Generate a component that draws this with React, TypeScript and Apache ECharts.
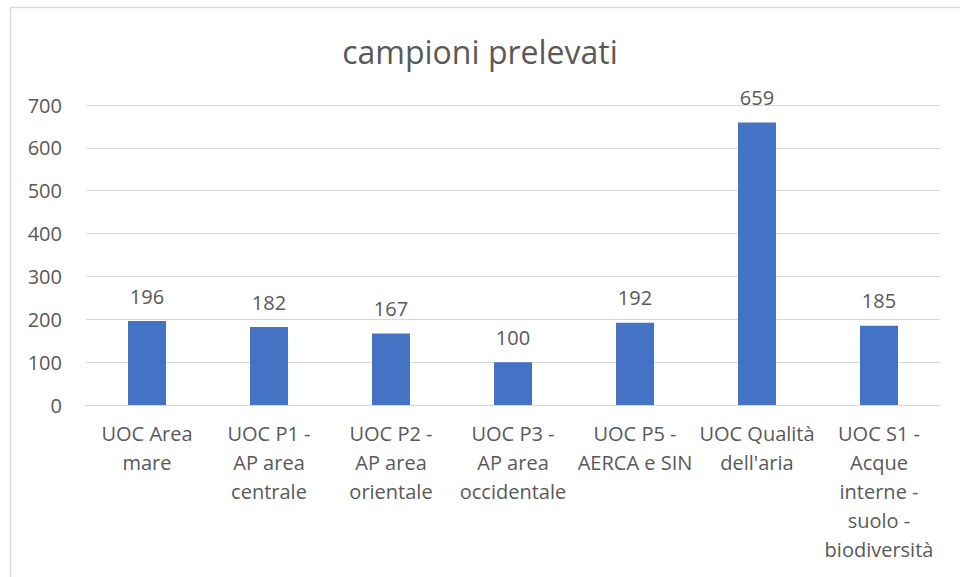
import React, { useEffect, useRef } from "react";
import * as echarts from "echarts";

const categories = [
  "UOC Area\nmare",
  "UOC P1 -\nAP area\ncentrale",
  "UOC P2 -\nAP area\norientale",
  "UOC P3 -\nAP area\noccidentale",
  "UOC P5 -\nAERCA e SIN",
  "UOC Qualità\ndell'aria",
  "UOC S1 -\nAcque\ninterne -\nsuolo -\nbiodiversità",
];
const values = [196, 182, 167, 100, 192, 659, 185];
const titleText = "campioni prelevati";

export default function App() {
  const ref = useRef<HTMLDivElement>(null);
  useEffect(() => {
    if (!ref.current) return;
    const chart = echarts.init(ref.current, undefined, { renderer: "svg" });
    const font = "'Open Sans', sans-serif";
    chart.setOption({
      animation: false,
      backgroundColor: "#ffffff",
      title: {
        text: titleText,
        left: "center",
        top: 30,
        textStyle: { fontFamily: font, fontSize: 32, fontWeight: "normal", color: "#595959" },
      },
      graphic: [
        {
          type: "rect",
          shape: { x: 10.5, y: 7.5, width: 980, height: 600 },
          style: { fill: "none", stroke: "#d9d9d9", lineWidth: 1.5 },
          silent: true,
        },
      ],
      grid: { left: 86, right: 20, top: 105, bottom: 172, containLabel: false },
      xAxis: {
        type: "category",
        data: categories,
        axisTick: { show: false },
        axisLine: { lineStyle: { color: "#d9d9d9", width: 1 } },
        axisLabel: {
          interval: 0,
          margin: 14,
          fontFamily: font,
          fontSize: 20,
          lineHeight: 29,
          color: "#595959",
          align: "center",
          verticalAlign: "top",
        },
      },
      yAxis: {
        type: "value",
        min: 0,
        max: 700,
        interval: 100,
        axisLine: { show: false },
        axisTick: { show: false },
        splitLine: { lineStyle: { color: "#d9d9d9", width: 1 } },
        axisLabel: { fontFamily: font, fontSize: 20, color: "#595959", margin: 24 },
      },
      series: [
        {
          type: "bar",
          data: values,
          barWidth: 38,
          itemStyle: { color: "#4472c4" },
          label: {
            show: true,
            position: "top",
            distance: 15,
            fontFamily: font,
            fontSize: 20,
            color: "#595959",
          },
        },
      ],
    });
    return () => chart.dispose();
  }, []);
  return (
    <div
      ref={ref}
      style={{ position: "fixed", left: 0, top: 0, width: 960, height: 577 }}
    />
  );
}
